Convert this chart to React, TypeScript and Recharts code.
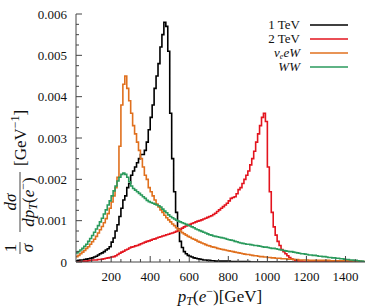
import { LineChart, Line, XAxis, YAxis } from "recharts";

// pT(e-) histograms, 10 GeV bins starting at 20 GeV
const X_MIN = 20;
const X_MAX = 1500;
const BIN = 10;

const oneTeV = [
  0.00003, 0.00004, 0.00005, 0.00005, 0.00006, 0.00007, 0.00008, 0.00009, 0.0001, 0.00012,
  0.00014, 0.00017, 0.0002, 0.00022, 0.00025, 0.00029, 0.00032, 0.00037, 0.00048, 0.00058,
  0.00075, 0.0009, 0.0011, 0.0013, 0.0015, 0.0016, 0.0018, 0.0019, 0.0021, 0.0022,
  0.0023, 0.0024, 0.0025, 0.0026, 0.0026, 0.0027, 0.0029, 0.0032, 0.0035, 0.0038,
  0.0042, 0.0045, 0.0048, 0.0052, 0.0055, 0.0058, 0.0057, 0.0051, 0.0036, 0.0025,
  0.0017, 0.0012, 0.0008, 0.0005, 0.00035, 0.00025, 0.0002, 0.00016, 0.00014, 0.00012,
  0.0001, 0.00009, 0.00008, 0.00007, 0.00006, 0.00005, 0.00005, 0.00004, 0.00004, 0.00003,
  0.00003, 0.00002, 0.00002, 0.00002, 0.00002, 0.00002, 0.00002, 0.00002, 0.00002, 0.00001,
  0.00001, 0.00001, 0.00001, 0.00001, 0.00001, 0.00001, 0.00001, 0.00001, 0.00001, 0,
  0, 0, 0, 0, 0, 0, 0, 0, 0, 0,
  0, 0, 0, 0, 0, 0, 0, 0, 0, 0,
  0, 0, 0, 0, 0, 0, 0, 0, 0, 0,
  0, 0, 0, 0, 0, 0, 0, 0, 0, 0,
  0, 0, 0, 0, 0, 0, 0, 0, 0, 0,
  0, 0, 0, 0, 0, 0, 0, 0,
];

const twoTeV = [
  0, 0, 0.00001, 0.00001, 0.00002, 0.00002, 0.00003, 0.00004, 0.00005, 0.00005,
  0.00005, 0.00006, 0.00006, 0.00007, 0.00008, 0.00009, 0.0001, 0.00011, 0.00012, 0.00013,
  0.00015, 0.00018, 0.00021, 0.00024, 0.00026, 0.00029, 0.00031, 0.00034, 0.00036, 0.00037,
  0.00039, 0.0004, 0.00042, 0.00044, 0.00046, 0.00048, 0.0005, 0.00051, 0.00053, 0.00055,
  0.00056, 0.00058, 0.0006, 0.00061, 0.00063, 0.00064, 0.00066, 0.00067, 0.00069, 0.0007,
  0.00072, 0.00074, 0.00076, 0.00079, 0.00082, 0.00085, 0.00087, 0.00089, 0.00091, 0.00093,
  0.00095, 0.00097, 0.00099, 0.001, 0.00102, 0.00104, 0.00106, 0.00108, 0.0011, 0.00112,
  0.00115, 0.00118, 0.00122, 0.00126, 0.0013, 0.00134, 0.00138, 0.00142, 0.00148, 0.00154,
  0.00156, 0.00158, 0.00165, 0.00175, 0.0018, 0.0019, 0.002, 0.0021, 0.0022, 0.00235,
  0.0025, 0.00268, 0.0029, 0.0031, 0.0033, 0.0035, 0.0036, 0.0034, 0.0023, 0.0017,
  0.0012, 0.00085, 0.00065, 0.0005, 0.0004, 0.0003, 0.00025, 0.0002, 0.00015, 0.00011,
  0.00008, 0.00006, 0.00004, 0.00003, 0.00002, 0.00002, 0.00001, 0.00001, 0, 0,
  0, 0, 0, 0, 0, 0, 0, 0, 0, 0,
  0, 0, 0, 0, 0, 0, 0, 0, 0, 0,
  0, 0, 0, 0, 0, 0, 0, 0,
];

const nueeW = [
  0.00013, 0.00016, 0.0002, 0.00024, 0.00028, 0.00033, 0.00037, 0.00043, 0.00049, 0.00055,
  0.00062, 0.0007, 0.00078, 0.00086, 0.00095, 0.00105, 0.00117, 0.0013, 0.00145, 0.0016,
  0.0018, 0.00205, 0.0028, 0.0038, 0.0043, 0.0045, 0.0042, 0.0039, 0.0036, 0.0033,
  0.0031, 0.0029, 0.0027, 0.0025, 0.0023, 0.0021, 0.002, 0.0018, 0.0017, 0.0016,
  0.0015, 0.0014, 0.00133, 0.00126, 0.0012, 0.00113, 0.00107, 0.00102, 0.00097, 0.00092,
  0.00088, 0.00083, 0.00079, 0.00075, 0.00071, 0.00068, 0.00065, 0.00062, 0.0006, 0.00057,
  0.00055, 0.00053, 0.0005, 0.00048, 0.00046, 0.00044, 0.00042, 0.0004, 0.00039, 0.00037,
  0.00036, 0.00035, 0.00033, 0.00032, 0.00031, 0.0003, 0.00029, 0.00028, 0.00027, 0.00026,
  0.00025, 0.00024, 0.00023, 0.00022, 0.00021, 0.0002, 0.00019, 0.00018, 0.00018, 0.00017,
  0.00016, 0.00015, 0.00015, 0.00014, 0.00013, 0.00013, 0.00012, 0.00012, 0.00011, 0.00011,
  0.0001, 0.0001, 0.00009, 0.00009, 0.00009, 0.00008, 0.00008, 0.00008, 0.00007, 0.00007,
  0.00007, 0.00006, 0.00006, 0.00006, 0.00005, 0.00005, 0.00005, 0.00005, 0.00005, 0.00004,
  0.00004, 0.00004, 0.00004, 0.00004, 0.00004, 0.00004, 0.00004, 0.00004, 0.00004, 0.00004,
  0.00003, 0.00003, 0.00003, 0.00003, 0.00003, 0.00003, 0.00003, 0.00003, 0.00003, 0.00003,
  0.00003, 0.00003, 0.00002, 0.00002, 0.00002, 0.00002, 0.00001, 0.00001,
];

const WW = [
  0.00022, 0.00025, 0.00029, 0.00033, 0.00038, 0.00043, 0.0005, 0.00057, 0.00064, 0.00072,
  0.0008, 0.00088, 0.00097, 0.00106, 0.00116, 0.00126, 0.00138, 0.00148, 0.0016, 0.00172,
  0.00184, 0.00196, 0.00205, 0.00212, 0.00215, 0.00212, 0.00205, 0.00194, 0.00184, 0.00178,
  0.00174, 0.0017, 0.00166, 0.00162, 0.00158, 0.00154, 0.00149, 0.00146, 0.00144, 0.00142,
  0.0014, 0.00138, 0.00136, 0.00133, 0.00128, 0.00123, 0.00119, 0.00114, 0.0011, 0.00107,
  0.00104, 0.00101, 0.00099, 0.00097, 0.00095, 0.00093, 0.00091, 0.00089, 0.00087, 0.00085,
  0.00083, 0.0008, 0.00078, 0.00076, 0.00074, 0.00072, 0.0007, 0.00068, 0.00066, 0.00065,
  0.00063, 0.00062, 0.00061, 0.0006, 0.00059, 0.00058, 0.00057, 0.00055, 0.00054, 0.00053,
  0.00052, 0.0005, 0.00049, 0.00047, 0.00046, 0.00045, 0.00044, 0.00043, 0.00043, 0.00042,
  0.00041, 0.0004, 0.0004, 0.00039, 0.00038, 0.00037, 0.00036, 0.00036, 0.00035, 0.00034,
  0.00033, 0.00033, 0.00032, 0.00031, 0.0003, 0.00029, 0.00028, 0.00027, 0.00026, 0.00025,
  0.00025, 0.00024, 0.00023, 0.00022, 0.00021, 0.0002, 0.0002, 0.00019, 0.00018, 0.00017,
  0.00017, 0.00016, 0.00016, 0.00015, 0.00014, 0.00014, 0.00013, 0.00013, 0.00012, 0.00011,
  0.00011, 0.0001, 0.0001, 0.00009, 0.00009, 0.00008, 0.00008, 0.00007, 0.00006, 0.00006,
  0.00005, 0.00005, 0.00004, 0.00004, 0.00003, 0.00002, 0.00002, 0.00001,
];

const xMajorTicks = [200, 400, 600, 800, 1000, 1200, 1400];
const yMajorTicks = [0, 0.001, 0.002, 0.003, 0.004, 0.005, 0.006];
const yTickLabels = ["0", "0.001", "0.002", "0.003", "0.004", "0.005", "0.006"];

// minor ticks every 50 GeV / 0.00025
const xTicks: number[] = [];
for (let v = 50; v < X_MAX; v += 50) xTicks.push(v);
const yTicks: number[] = [];
for (let i = 0; i <= 24; i++) yTicks.push(+(i * 0.00025).toFixed(5));

const rows: any[] = oneTeV.map((_, i) => ({
  x: X_MIN + i * BIN,
  tev1: oneTeV[i],
  tev2: twoTeV[i],
  nuew: nueeW[i],
  ww: WW[i],
}));
// close the last bin
const last = rows[rows.length - 1];
rows.push({ ...last, x: X_MAX });

const BLACK = "#000000";
const RED = "#e3141e";
const ORANGE = "#e0701e";
const GREEN = "#2a9a5c";
const AXIS = "#444444";
const FONT = "'Liberation Serif', 'DejaVu Serif', serif";
const TM = 8;

const isMajorX = (v: number) => xMajorTicks.includes(v);
const majorY = (v: number) =>
  yMajorTicks.findIndex((m) => Math.abs(m - v) < 1e-9);

const BottomTick = (props: any) => {
  const { x, y, payload } = props;
  const ay = y - TM;
  const major = isMajorX(payload.value);
  return (
    <g>
      <line x1={x} x2={x} y1={ay} y2={ay - (major ? 6 : 3)} stroke={AXIS} />
      {major && (
        <text x={x} y={ay + 19} textAnchor="middle" fontSize={13} fontFamily={FONT} fill="#111">
          {payload.value}
        </text>
      )}
    </g>
  );
};

const TopTick = (props: any) => {
  const { x, y, payload } = props;
  const ay = y + TM;
  const major = isMajorX(payload.value);
  return <line x1={x} x2={x} y1={ay} y2={ay + (major ? 6 : 3)} stroke={AXIS} />;
};

const LeftTick = (props: any) => {
  const { x, y, payload } = props;
  const ax = x + TM;
  const idx = majorY(payload.value);
  return (
    <g>
      <line x1={ax} x2={ax + (idx >= 0 ? 6 : 3)} y1={y} y2={y} stroke={AXIS} />
      {idx >= 0 && (
        <text x={ax - 9} y={y + 4.5} textAnchor="end" fontSize={13} fontFamily={FONT} fill="#111">
          {yTickLabels[idx]}
        </text>
      )}
    </g>
  );
};

const RightTick = (props: any) => {
  const { x, y, payload } = props;
  const ax = x - TM;
  const idx = majorY(payload.value);
  return <line x1={ax} x2={ax - (idx >= 0 ? 6 : 3)} y1={y} y2={y} stroke={AXIS} />;
};

const legendItems = [
  { key: "tev1", color: BLACK },
  { key: "tev2", color: RED },
  { key: "nuew", color: ORANGE },
  { key: "ww", color: GREEN },
];

const App = () => {
  return (
    <div
      style={{
        position: "absolute",
        left: 0,
        top: 0,
        width: 390,
        height: 307,
        background: "#fff",
      }}
    >
      <LineChart
        width={390}
        height={307}
        data={rows}
        margin={{ top: 14, right: 25, bottom: 0, left: 0 }}
      >
        <XAxis
          xAxisId="bottom"
          dataKey="x"
          type="number"
          domain={[X_MIN, X_MAX]}
          allowDataOverflow
          ticks={xTicks}
          interval={0}
          height={45}
          tickSize={0}
          tickMargin={TM}
          tickLine={false}
          axisLine={{ stroke: AXIS }}
          tick={<BottomTick />}
        />
        <XAxis
          xAxisId="top"
          orientation="top"
          dataKey="x"
          type="number"
          domain={[X_MIN, X_MAX]}
          allowDataOverflow
          ticks={xTicks}
          interval={0}
          height={0}
          tickSize={0}
          tickMargin={TM}
          tickLine={false}
          axisLine={{ stroke: AXIS }}
          tick={<TopTick />}
        />
        <YAxis
          yAxisId="left"
          type="number"
          domain={[0, 0.006]}
          allowDataOverflow
          ticks={yTicks}
          interval={0}
          width={76}
          tickSize={0}
          tickMargin={TM}
          tickLine={false}
          axisLine={{ stroke: AXIS }}
          tick={<LeftTick />}
        />
        <YAxis
          yAxisId="right"
          orientation="right"
          type="number"
          domain={[0, 0.006]}
          allowDataOverflow
          ticks={yTicks}
          interval={0}
          width={0}
          tickSize={0}
          tickMargin={TM}
          tickLine={false}
          axisLine={{ stroke: AXIS }}
          tick={<RightTick />}
        />
        {legendItems.map((s) => (
          <Line
            key={s.key}
            xAxisId="bottom"
            yAxisId="left"
            type="stepAfter"
            dataKey={s.key}
            stroke={s.color}
            strokeWidth={1.6}
            dot={false}
            activeDot={false}
            isAnimationActive={false}
          />
        ))}
      </LineChart>

      <svg
        width={390}
        height={307}
        style={{ position: "absolute", left: 0, top: 0, pointerEvents: "none" }}
        fontFamily={FONT}
        fill="#111"
      >
        {/* legend */}
        <g fontSize={13}>
          <text x={300} y={29} textAnchor="end">1 TeV</text>
          <text x={300} y={43} textAnchor="end">2 TeV</text>
          <text x={300} y={57} textAnchor="end">
            <tspan fontStyle="italic">ν</tspan>
            <tspan fontStyle="italic" fontSize={8} dy={1.5}>e</tspan>
            <tspan fontStyle="italic" dy={-1.5}>eW</tspan>
          </text>
          <text x={300} y={71} textAnchor="end" fontStyle="italic">WW</text>
        </g>
        {legendItems.map((s, i) => (
          <line
            key={s.key}
            x1={310}
            x2={348}
            y1={25 + i * 14}
            y2={25 + i * 14}
            stroke={s.color}
            strokeWidth={1.6}
          />
        ))}

        {/* x title */}
        <text x={220} y={302} textAnchor="middle" fontSize={17}>
          <tspan fontStyle="italic">p</tspan>
          <tspan fontStyle="italic" fontSize={12} dy={3}>T</tspan>
          <tspan dy={-3}>(</tspan>
          <tspan fontStyle="italic">e</tspan>
          <tspan fontSize={12} dy={-7}>−</tspan>
          <tspan dy={7}>)[GeV]</tspan>
        </text>

        {/* y title */}
        <g transform="translate(20,160) rotate(-90)" fontSize={17}>
          <text x={-88} y={-4} textAnchor="middle">1</text>
          <line x1={-94} x2={-82} y1={0} y2={0} stroke="#111" strokeWidth={0.8} />
          <text x={-88} y={13} textAnchor="middle" fontStyle="italic">σ</text>

          <text x={-42} y={-4} textAnchor="middle" fontStyle="italic">dσ</text>
          <line x1={-72} x2={-12} y1={0} y2={0} stroke="#111" strokeWidth={0.8} />
          <text x={-42} y={14} textAnchor="middle">
            <tspan fontStyle="italic">dp</tspan>
            <tspan fontStyle="italic" fontSize={12} dy={3}>T</tspan>
            <tspan dy={-3}>(</tspan>
            <tspan fontStyle="italic">e</tspan>
            <tspan fontSize={12} dy={-7}>−</tspan>
            <tspan dy={7}>)</tspan>
          </text>

          <text x={-6} y={5.5}>
            <tspan>[GeV</tspan>
            <tspan fontSize={12} dy={-7}>−1</tspan>
            <tspan dy={7}>]</tspan>
          </text>
        </g>
      </svg>
    </div>
  );
};

export default App;
